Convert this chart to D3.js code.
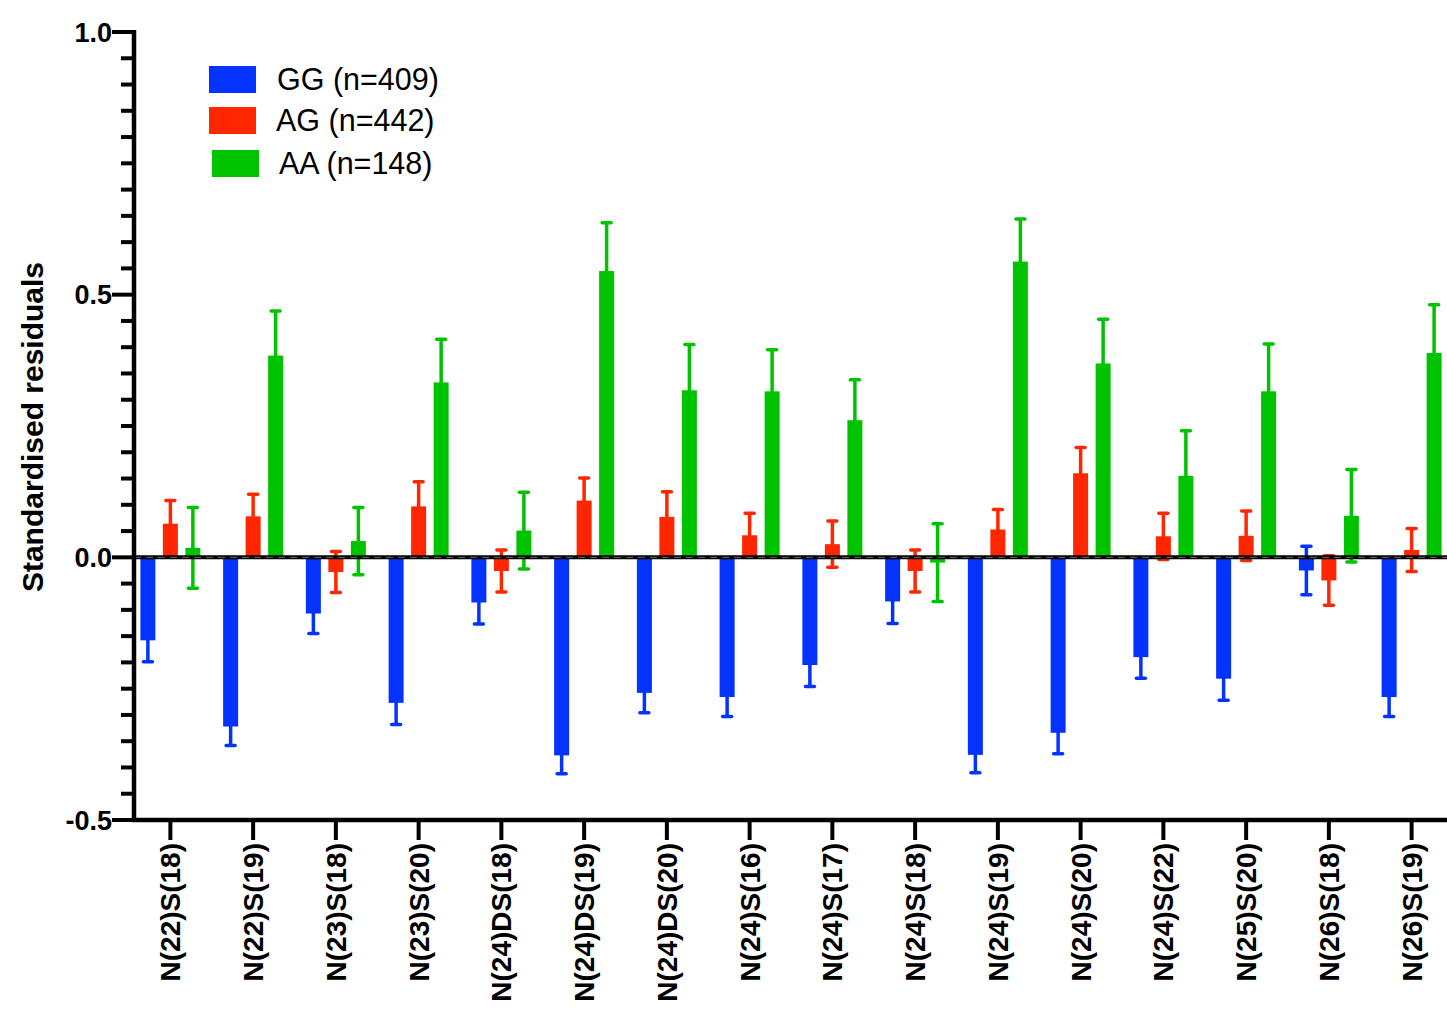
<!DOCTYPE html>
<html>
<head>
<meta charset="utf-8">
<script src="https://cdn.jsdelivr.net/npm/d3@7"></script>
<style>
  html, body { margin: 0; padding: 0; background: #fff; }
  svg { display: block; }
  text { font-family: "Liberation Sans", Arial, Helvetica, sans-serif; }
</style>
</head>
<body>
<svg id="chart" width="1447" height="1016"></svg>
<script>
const categories = ["N(22)S(18)","N(22)S(19)","N(23)S(18)","N(23)S(20)","N(24)DS(18)","N(24)DS(19)","N(24)DS(20)","N(24)S(16)","N(24)S(17)","N(24)S(18)","N(24)S(19)","N(24)S(20)","N(24)S(22)","N(25)S(20)","N(26)S(18)","N(26)S(19)"];
const seriesKeys = ["GG", "AG", "AA"];
const seriesLabels = ["GG (n=409)", "AG (n=442)", "AA (n=148)"];
const seriesColors = ["#0433FF", "#FF2600", "#00C300"];

const ggValues = [-0.158,-0.322,-0.107,-0.277,-0.086,-0.377,-0.258,-0.266,-0.205,-0.084,-0.376,-0.334,-0.190,-0.231,-0.025,-0.266];
const ggErrors = [0.041,0.036,0.038,0.041,0.041,0.035,0.038,0.037,0.041,0.042,0.034,0.040,0.040,0.041,0.046,0.037];
const agValues = [0.064,0.078,-0.028,0.097,-0.026,0.108,0.077,0.042,0.025,-0.026,0.053,0.160,0.040,0.041,-0.044,0.014];
const agErrors = [0.044,0.042,0.039,0.047,0.040,0.043,0.048,0.042,0.044,0.040,0.038,0.049,0.044,0.047,0.047,0.041];
const aaValues = [0.018,0.384,0.031,0.333,0.051,0.545,0.318,0.316,0.261,-0.010,0.563,0.369,0.155,0.316,0.079,0.389];
const aaErrors = [0.077,0.085,0.064,0.082,0.073,0.092,0.087,0.079,0.077,0.074,0.081,0.084,0.086,0.090,0.088,0.092];

const yMajorTicks = [-0.5, 0.0, 0.5, 1.0];
const yTickLabels = ["-0.5", "0.0", "0.5", "1.0"];
const yTitle = "Standardised residuals";

const valuesBySeries = [ggValues, agValues, aaValues];
const errorsBySeries = [ggErrors, agErrors, aaErrors];

const svg = d3.select("#chart");
const axisX = 134, axisBottom = 820, axisTop = 32, rightEdge = 1447;

const y = d3.scaleLinear().domain([-0.5, 1.0]).range([axisBottom, axisTop]);
const x0 = d3.scaleBand().domain(categories).range([129, 1453]).padding(0);
const x1 = d3.scaleBand().domain(seriesKeys).range([0, x0.bandwidth()]).paddingInner(1/3).paddingOuter(0.5055);

const rows = [];
categories.forEach((c, i) => {
  seriesKeys.forEach((k, j) => {
    rows.push({cat: c, key: k, value: valuesBySeries[j][i], err: errorsBySeries[j][i], color: seriesColors[j]});
  });
});

const plot = svg.append("g");

// error bars (drawn behind bars)
const eb = plot.selectAll("g.err").data(rows).join("g").attr("class", "err");
eb.each(function(d) {
  const g = d3.select(this);
  const cx = x0(d.cat) + x1(d.key) + x1.bandwidth() / 2;
  const lo = d.value - d.err, hi = d.value + d.err;
  g.append("line").attr("x1", cx).attr("x2", cx).attr("y1", y(lo)).attr("y2", y(hi))
    .attr("stroke", d.color).attr("stroke-width", 3.5);
  [lo, hi].forEach(v => {
    g.append("line").attr("x1", cx - 4.5).attr("x2", cx + 4.5).attr("y1", y(v)).attr("y2", y(v))
      .attr("stroke", d.color).attr("stroke-width", 3.5).attr("stroke-linecap", "round");
  });
});

// bars
plot.selectAll("rect.bar").data(rows).join("rect").attr("class", "bar")
  .attr("x", d => x0(d.cat) + x1(d.key))
  .attr("width", x1.bandwidth())
  .attr("y", d => y(Math.max(0, d.value)))
  .attr("height", d => Math.abs(y(d.value) - y(0)))
  .attr("fill", d => d.color);

// zero line
svg.append("line").attr("x1", axisX).attr("x2", rightEdge).attr("y1", y(0)).attr("y2", y(0))
  .attr("stroke", "#000").attr("stroke-width", 4);
svg.append("line").attr("x1", axisX).attr("x2", rightEdge).attr("y1", y(0)).attr("y2", y(0))
  .attr("stroke", "#6a6a6a").attr("stroke-width", 1).attr("stroke-dasharray", "7,5");

// y axis
const yAxisG = svg.append("g");
const minorTicks = d3.range(-0.5, 1.0001, 0.05).map(v => +v.toFixed(2)).filter(v => !yMajorTicks.some(m => Math.abs(m - v) < 1e-6));
yAxisG.selectAll("line.minor").data(minorTicks).join("line")
  .attr("x1", axisX - 13).attr("x2", axisX).attr("y1", d => y(d)).attr("y2", d => y(d))
  .attr("stroke", "#000").attr("stroke-width", 4);
yAxisG.selectAll("line.major").data(yMajorTicks).join("line")
  .attr("x1", axisX - 22).attr("x2", axisX).attr("y1", d => y(d)).attr("y2", d => y(d))
  .attr("stroke", "#000").attr("stroke-width", 4);
yAxisG.selectAll("text").data(yMajorTicks).join("text")
  .attr("x", axisX - 22).attr("y", d => y(d)).attr("dy", "0.36em")
  .attr("text-anchor", "end").attr("font-size", 27).attr("font-weight", "bold")
  .text((d, i) => yTickLabels[i]);
yAxisG.append("line").attr("x1", axisX).attr("x2", axisX).attr("y1", axisTop - 2).attr("y2", axisBottom + 2)
  .attr("stroke", "#000").attr("stroke-width", 4.5);

// y title
svg.append("text")
  .attr("transform", `translate(43, ${(258 + 596) / 2}) rotate(-90)`)
  .attr("text-anchor", "middle").attr("font-size", 30).attr("font-weight", "bold")
  .text(yTitle);

// x axis
const xAxisG = svg.append("g");
xAxisG.append("line").attr("x1", axisX - 2).attr("x2", rightEdge).attr("y1", axisBottom).attr("y2", axisBottom)
  .attr("stroke", "#000").attr("stroke-width", 4.5);
xAxisG.selectAll("line.tick").data(categories).join("line")
  .attr("x1", d => x0(d) + x0.bandwidth() / 2).attr("x2", d => x0(d) + x0.bandwidth() / 2)
  .attr("y1", axisBottom).attr("y2", axisBottom + 20)
  .attr("stroke", "#000").attr("stroke-width", 4);
xAxisG.selectAll("text").data(categories).join("text")
  .attr("transform", d => `translate(${x0(d) + x0.bandwidth() / 2}, ${axisBottom + 23}) rotate(-90)`)
  .attr("dy", "0.36em").attr("text-anchor", "end")
  .attr("font-size", 28).attr("font-weight", "bold")
  .text(d => d);

// legend
const legendRows = [
  {sx: 209, sy: 66, tx: 277, ty: 79},
  {sx: 209, sy: 107, tx: 276, ty: 120},
  {sx: 212, sy: 150, tx: 279, ty: 163}
];
const lg = svg.append("g");
seriesLabels.forEach((lab, i) => {
  const p = legendRows[i];
  lg.append("rect").attr("x", p.sx).attr("y", p.sy).attr("width", 47).attr("height", 27).attr("fill", seriesColors[i]);
  lg.append("text").attr("x", p.tx).attr("y", p.ty).attr("dy", "0.36em")
    .attr("font-size", 30.5).text(lab);
});
</script>
</body>
</html>
